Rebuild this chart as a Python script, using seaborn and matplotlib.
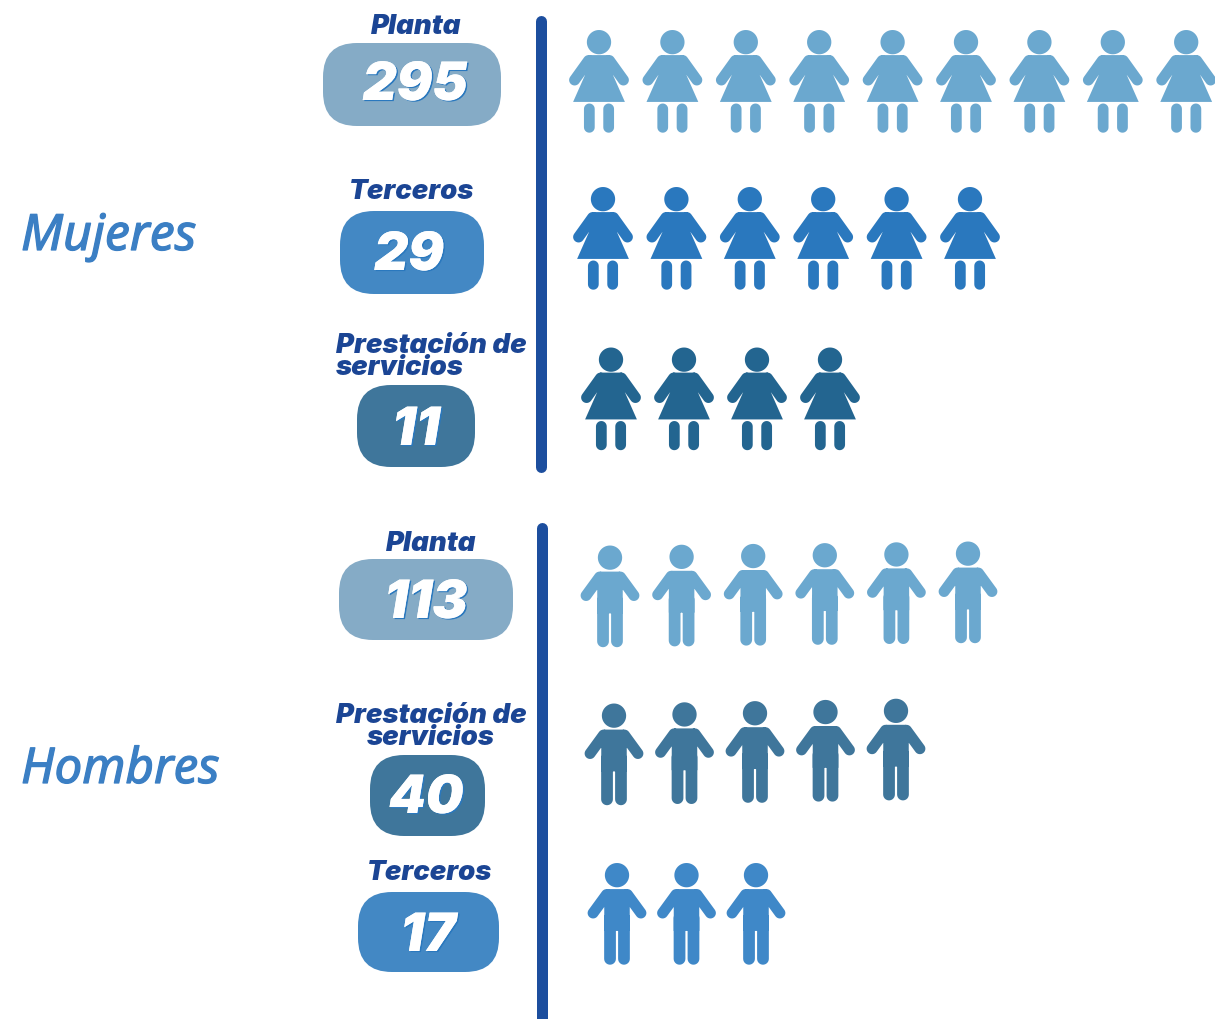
import numpy as np
import pandas as pd
import matplotlib
matplotlib.use("Agg")
import matplotlib.pyplot as plt
import matplotlib.patheffects as pe
from matplotlib.patches import FancyBboxPatch
from matplotlib.path import Path
import seaborn as sns

# ---------- data ----------
groups = ["Mujeres", "Mujeres", "Mujeres", "Hombres", "Hombres", "Hombres"]
categories = ["Planta", "Terceros", "Prestación de\nservicios",
              "Planta", "Prestación de\nservicios", "Terceros"]
values = [295, 29, 11, 113, 40, 17]
icon_counts = [9, 6, 4, 6, 5, 3]

# ---------- styles and layout (pixels) ----------
W, H = 1215, 1020
icon_colors = ["#6BA8CF", "#2A78BE", "#236590", "#6BA8CF", "#3F769B", "#3F88C8"]
badge_colors = ["#85ABC6", "#4388C4", "#3F769B", "#85ABC6", "#3F769B", "#4388C4"]
icon_x0 = [599, 603, 611, 610, 614, 617]
icon_step = [73.4, 73.4, 73.0, 71.6, 70.5, 69.5]
icon_y = [81.5, 238.5, 399, 597, 755, 914.5]
icon_dy = [0, 0, 0, -0.8, -1.2, 0]
badge_box = [(323, 43, 501, 126), (340, 211, 484, 294), (357, 385, 475, 467),
             (339, 559, 513, 640), (370, 755, 485, 836), (358, 892, 499, 972)]
value_xy = [(415, 81), (409, 251), (416, 426), (426, 599), (426, 794), (428, 932)]
label_xy = [(416, 26), (412, 191), (336, 356), (431, 543), (431, 726), (430, 872)]
label_ha = ["center", "center", "left", "center", "center", "center"]
NAVY = "#1B4594"
LINE = "#1C4E9E"
HEAD = "#3B7FC4"


def poly_ccw(p):
    p = np.asarray(p, float)
    x, y = p[:, 0], p[:, 1]
    area = np.sum(x * np.roll(y, -1) - np.roll(x, -1) * y)
    return p if area > 0 else p[::-1]


def circle(cx, cy, r):
    t = np.linspace(0, 2 * np.pi, 48, endpoint=False)
    return poly_ccw(np.c_[cx + r * np.cos(t), cy + r * np.sin(t)])


def capsule(a, b, w):
    a, b = np.asarray(a, float), np.asarray(b, float)
    ang = np.arctan2(*(b - a)[::-1])
    t1 = np.linspace(ang + np.pi / 2, ang + 3 * np.pi / 2, 14)
    t2 = np.linspace(ang - np.pi / 2, ang + np.pi / 2, 14)
    r = w / 2
    pts = np.r_[np.c_[a[0] + r * np.cos(t1), a[1] + r * np.sin(t1)],
                np.c_[b[0] + r * np.cos(t2), b[1] + r * np.sin(t2)]]
    return poly_ccw(pts)


def compound(polys):
    verts, codes = [], []
    for p in polys:
        verts.extend(p.tolist() + [p[0].tolist()])
        codes.extend([Path.MOVETO] + [Path.LINETO] * (len(p) - 1) + [Path.CLOSEPOLY])
    return Path(np.array(verts), codes)


def woman_marker():
    yy = lambda v: 51.5 - v  # v = px below the top of the icon
    parts = [circle(0, yy(12), 12.2),
             poly_ccw([(-11, yy(25)), (11, yy(25)), (12.7, yy(42)), (26, yy(72)),
                       (-26, yy(72)), (-12.7, yy(42))])]
    for s in (-1, 1):
        parts.append(capsule((s * 10.5, yy(30.5)), (s * 24.5, yy(50)), 11))
        parts.append(capsule((s * 9.7, yy(79)), (s * 9.7, yy(97.5)), 10.8))
    return compound(parts)


def man_marker():
    yy = lambda v: 51.5 - v
    parts = [circle(0, yy(12), 12.2),
             poly_ccw([(-10, yy(26)), (10, yy(26)), (12.8, yy(29)), (12.8, yy(68)),
                       (-12.8, yy(68)), (-12.8, yy(29))])]
    for s in (-1, 1):
        parts.append(capsule((s * 10.5, yy(31.5)), (s * 24, yy(50)), 11))
        parts.append(capsule((s * 7, yy(55)), (s * 7, yy(96)), 11.8))
    return compound(parts)


sns.set_theme(style="white")
plt.rcParams["font.family"] = ["Inter", "DejaVu Sans"]

fig = plt.figure(figsize=(W / 100, H / 100), dpi=100, facecolor="white")
ax = fig.add_axes([0, 0, 1, 1])

markers = {"Mujeres": woman_marker(), "Hombres": man_marker()}
for r, n in enumerate(icon_counts):
    idx = np.arange(n)
    row = pd.DataFrame({"x": icon_x0[r] + icon_step[r] * idx,
                        "y": icon_y[r] + icon_dy[r] * idx})
    sns.scatterplot(data=row, x="x", y="y", ax=ax, marker=markers[groups[r]],
                    s=(103 * 0.72) ** 2, color=icon_colors[r], edgecolor="none",
                    linewidth=0, legend=False, clip_on=False)
ax.set_xlim(0, W)
ax.set_ylim(H - 1, -1)
ax.axis("off")

# dividers
ax.plot([541, 541], [21, 467], color=LINE, lw=11 * 0.72, solid_capstyle="round")
ax.plot([542, 542], [528, 1040], color=LINE, lw=11 * 0.72, solid_capstyle="round")

# badges, values and labels
for r, v in enumerate(values):
    x0, y0, x1, y1 = badge_box[r]
    rad = 34
    ax.add_patch(FancyBboxPatch((x0 + rad, y0 + rad), x1 - x0 - 2 * rad, y1 - y0 - 2 * rad,
                                boxstyle=f"round,pad={rad},rounding_size={rad}",
                                fc=badge_colors[r], ec="none"))
    ax.text(*value_xy[r], str(v), color="white", fontsize=38, fontweight="black",
            fontstyle="italic", ha="center", va="center_baseline",
            path_effects=[pe.withSimplePatchShadow(offset=(1.1, -0.8), shadow_rgbFace="#2A78BE",
                                                   alpha=1), pe.Normal()])
    ax.text(*label_xy[r], categories[r], color=NAVY, fontsize=19.8, fontweight="black",
            fontstyle="italic", ha=label_ha[r], va="center", multialignment=label_ha[r],
            linespacing=0.82)

for name, y, size in [("Mujeres", 250, 36), ("Hombres", 783, 35.5)]:
    ax.text(21, y, name, color=HEAD, fontsize=size, fontstyle="italic",
            family=["Noto Sans", "DejaVu Sans"], ha="left", va="baseline",
            path_effects=[pe.withStroke(linewidth=0.9, foreground=HEAD)])

fig.savefig("out.png", dpi=100, facecolor="white")
